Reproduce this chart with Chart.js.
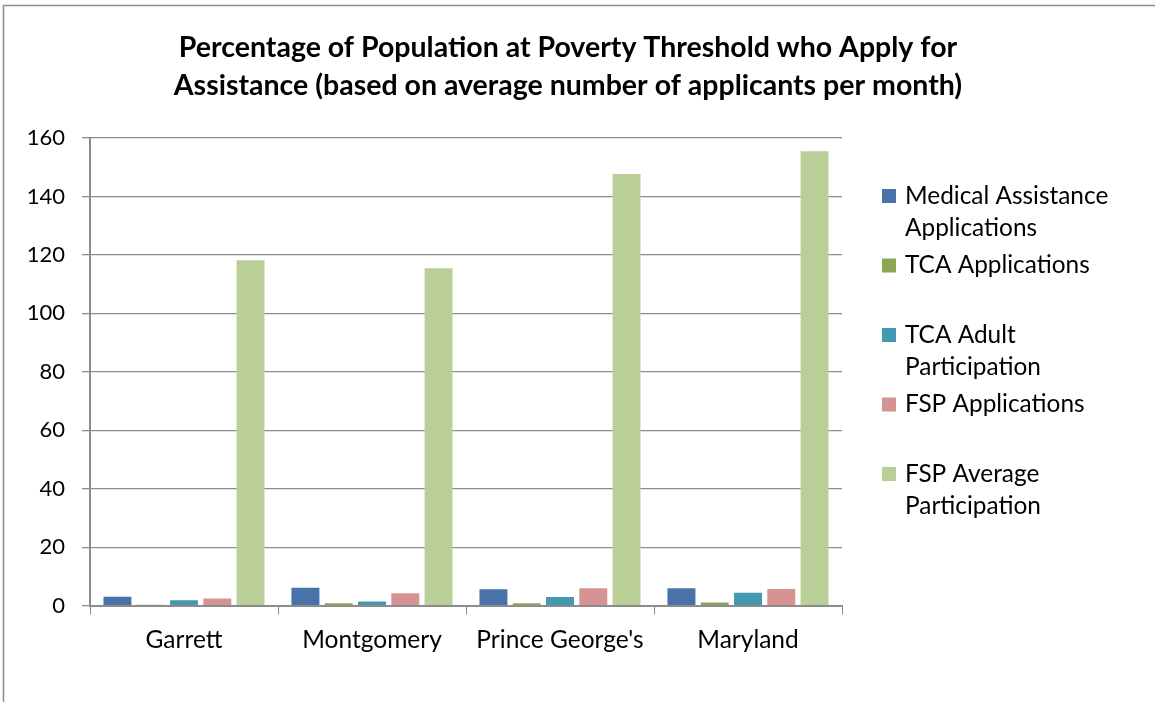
<!DOCTYPE html>
<html>
<head>
<meta charset="utf-8">
<script src="https://cdn.jsdelivr.net/npm/chart.js@4"></script>
<style>
  html, body { margin: 0; padding: 0; background: #fff; }
  #wrap { position: relative; width: 1155px; height: 702px; }
</style>
</head>
<body>
<div id="wrap"><canvas id="chart" width="1155" height="702"></canvas></div>
<script>
const categories = ['Garrett', 'Montgomery', "Prince George's", 'Maryland'];
const seriesNames = ['Medical Assistance Applications', 'TCA Applications', 'TCA Adult Participation', 'FSP Applications', 'FSP Average Participation'];
const seriesColors = ['#4773A9', '#8CA652', '#4399B0', '#D59393', '#B9CF97'];

const medicalApps = [3.0, 6.1, 5.6, 5.9];
const tcaApps = [0.3, 0.8, 0.8, 1.1];
const tcaAdult = [1.8, 1.4, 2.9, 4.4];
const fspApps = [2.4, 4.2, 5.9, 5.7];
const fspAvg = [118.2, 115.4, 147.7, 155.5];

const yTicks = [0, 20, 40, 60, 80, 100, 120, 140, 160];
const titleLines = ['Percentage of Population at Poverty Threshold who Apply for',
                    'Assistance (based on average number of applicants per month)'];

const seriesValues = [medicalApps, tcaApps, tcaAdult, fspApps, fspAvg];
const FONT = "Lato, 'Open Sans', sans-serif";

// frame, title and legend drawn on the canvas, excel style
const extrasPlugin = {
    id: 'extras',
    beforeDraw(chart) {
        const ctx = chart.ctx;
        ctx.save();
        ctx.strokeStyle = '#8c8c8c';
        ctx.lineWidth = 1.5;
        ctx.beginPath();
        ctx.moveTo(3.5, 702);
        ctx.lineTo(3.5, 5.5);
        ctx.lineTo(1155, 5.5);
        ctx.stroke();
        ctx.restore();
    },
    afterDraw(chart) {
        const ctx = chart.ctx;
        ctx.save();
        ctx.textBaseline = 'middle';
        ctx.fillStyle = '#000';

        ctx.font = 'bold 28.5px ' + FONT;
        ctx.textAlign = 'center';
        titleLines.forEach((t, i) => ctx.fillText(t, 568, 48 + i * 38));

        ctx.textAlign = 'left';
        ctx.font = '24.4px ' + FONT;
        let y = 196;
        chart.data.datasets.forEach((ds) => {
            // wrap label
            const words = ds.label.split(' ');
            const lines = [];
            let cur = '';
            words.forEach(w => {
                const t = cur ? cur + ' ' + w : w;
                if (ctx.measureText(t).width > 235 && cur) {
                    lines.push(cur);
                    cur = w;
                } else {
                    cur = t;
                }
            });
            lines.push(cur);
            ctx.fillStyle = ds.backgroundColor;
            ctx.fillRect(882, y - 7, 14, 14);
            ctx.fillStyle = '#000';
            lines.forEach((l, i) => ctx.fillText(l, 905, y + i * 32));
            y += 69.5;
        });
        ctx.restore();
    }
};

const ctx = document.getElementById('chart').getContext('2d');
new Chart(ctx, {
    type: 'bar',
    data: {
        labels: categories,
        datasets: seriesNames.map((name, i) => ({
            label: name,
            data: seriesValues[i],
            backgroundColor: seriesColors[i],
            categoryPercentage: 0.885,
            barPercentage: 0.84
        }))
    },
    options: {
        responsive: false,
        animation: false,
        layout: { padding: { left: 10, right: 313, top: 138, bottom: 36 } },
        plugins: {
            legend: { display: false },
            tooltip: { enabled: false },
            title: { display: false }
        },
        scales: {
            x: {
                grid: { display: true, drawOnChartArea: false, color: '#8c8c8c', tickLength: 9, offset: true },
                border: { color: '#8c8c8c', width: 2 },
                ticks: { color: '#000', font: { family: FONT, size: 24.5 }, padding: 11 }
            },
            y: {
                min: 0,
                max: 160,
                afterBuildTicks(scale) {
                    scale.ticks = yTicks.map(v => ({ value: v }));
                },
                afterFit(scale) { scale.width = 80; },
                grid: { color: '#8c8c8c', tickLength: 8, lineWidth: 1.3 },
                border: { color: '#8c8c8c', width: 2 },
                ticks: { color: '#000', font: { family: FONT, size: 22 }, padding: 17 }
            }
        }
    },
    plugins: [extrasPlugin]
});
</script>
</body>
</html>
